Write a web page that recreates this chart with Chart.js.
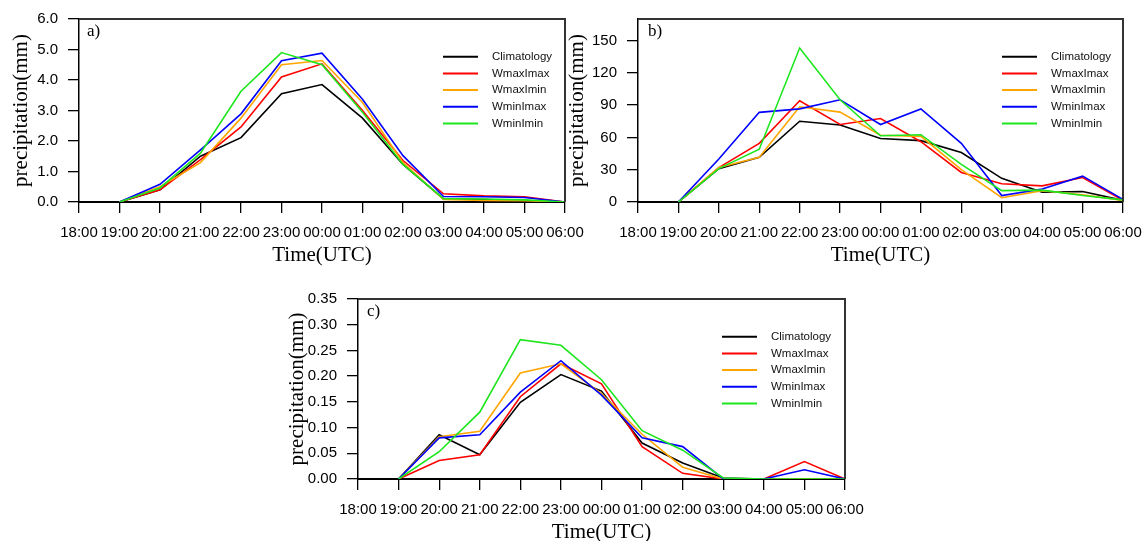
<!DOCTYPE html>
<html>
<head>
<meta charset="utf-8">
<script src="https://cdn.jsdelivr.net/npm/chart.js@4/dist/chart.umd.min.js"></script>
<style>
  html, body { margin: 0; padding: 0; background: #fff; }
  body { width: 1147px; height: 541px; position: relative; overflow: hidden; }
  canvas { position: absolute; }
</style>
</head>
<body>
<canvas id="chart-a" style="left:0px;top:0px" width="600" height="270"></canvas>
<canvas id="chart-b" style="left:560px;top:0px" width="600" height="270"></canvas>
<canvas id="chart-c" style="left:280px;top:280px" width="600" height="261"></canvas>
<script>
// hours on the x axis (no data at 18:00)
const times = ['18:00', '19:00', '20:00', '21:00', '22:00', '23:00', '00:00', '01:00', '02:00', '03:00', '04:00', '05:00', '06:00'];
const seriesNames = ['Climatology', 'WmaxImax', 'WmaxImin', 'WminImax', 'WminImin'];
const seriesColors = ['#000000', '#ff0000', '#ffa500', '#0000ff', '#1ee61e'];

// panel a)
const aClimatology = [null, 0, 0.40, 1.50, 2.11, 3.55, 3.85, 2.75, 1.23, 0.10, 0.08, 0.05, 0];
const aWmaxImax    = [null, 0, 0.40, 1.39, 2.46, 4.10, 4.53, 3.00, 1.36, 0.27, 0.20, 0.17, 0];
const aWmaxImin    = [null, 0, 0.50, 1.29, 2.75, 4.50, 4.64, 3.26, 1.29, 0.08, 0.05, 0.04, 0];
const aWminImax    = [null, 0, 0.58, 1.71, 2.89, 4.63, 4.88, 3.37, 1.52, 0.18, 0.17, 0.15, 0];
const aWminImin    = [null, 0, 0.46, 1.60, 3.63, 4.90, 4.50, 2.94, 1.23, 0.11, 0.10, 0.07, 0];

// panel b)
const bClimatology = [null, 0, 31, 41.5, 75, 71.5, 59, 57, 46, 22, 9, 9.7, 1.5];
const bWmaxImax    = [null, 0, 32, 54.5, 94, 72, 77.5, 56, 27.5, 17, 15, 22.7, 1.5];
const bWmaxImin    = [null, 0, 32, 41.5, 88.5, 83.5, 62, 61, 30, 4, 10.6, 6.7, 1.5];
const bWminImax    = [null, 0, 40, 83.3, 86.5, 95, 72, 86.5, 54.5, 6, 12, 24, 2.4];
const bWminImin    = [null, 0, 31, 49, 143, 95, 61.5, 62.5, 35, 10.6, 11, 6, 2];

// panel c)
const cClimatology = [null, 0, 0.086, 0.047, 0.149, 0.203, 0.171, 0.070, 0.031, 0.002, 0, 0, 0];
const cWmaxImax    = [null, 0, 0.036, 0.047, 0.160, 0.224, 0.185, 0.063, 0.011, 0, 0, 0.034, 0];
const cWmaxImin    = [null, 0, 0.082, 0.093, 0.206, 0.224, 0.166, 0.087, 0.023, 0, 0, 0, 0];
const cWminImax    = [null, 0, 0.080, 0.086, 0.169, 0.230, 0.163, 0.080, 0.063, 0, 0, 0.018, 0];
const cWminImin    = [null, 0, 0.053, 0.130, 0.271, 0.260, 0.193, 0.094, 0.056, 0.002, 0, 0, 0];

const yTicksA = { max: 6, step: 1, decimals: 1 };
const yTicksB = { max: 170, step: 30, decimals: 0 };
const yTicksC = { max: 0.35, step: 0.05, decimals: 2 };

// frame (top/right), panel letter and the inset legend
const panelDecor = {
  id: 'panelDecor',
  afterDraw(chart, args, opts) {
    const {ctx, chartArea: ca} = chart;
    ctx.save();
    ctx.strokeStyle = '#333';
    ctx.lineWidth = 2;
    ctx.beginPath();
    ctx.moveTo(ca.left, ca.top);
    ctx.lineTo(ca.right, ca.top);
    ctx.lineTo(ca.right, ca.bottom);
    ctx.stroke();

    ctx.fillStyle = '#000';
    ctx.font = '17px "Liberation Serif"';
    ctx.textBaseline = 'middle';
    ctx.fillText(opts.letter, ca.left + opts.letterX, ca.top + 12.5);

    ctx.font = '11.5px "Liberation Sans"';
    chart.data.datasets.forEach((ds, i) => {
      const y = ca.top + 37.7 + i * 16.7;
      ctx.strokeStyle = ds.borderColor;
      ctx.lineWidth = 2;
      ctx.beginPath();
      ctx.moveTo(ca.left + 364, y);
      ctx.lineTo(ca.left + 399, y);
      ctx.stroke();
      ctx.fillStyle = '#111';
      ctx.fillText(ds.label, ca.left + 413, y);
    });
    ctx.restore();
  }
};

function makeChart(id, series, yInfo, layout) {
  new Chart(document.getElementById(id).getContext('2d'), {
    type: 'line',
    data: {
      labels: times,
      datasets: series.map((values, i) => ({
        label: seriesNames[i],
        data: values,
        borderColor: seriesColors[i],
        borderWidth: 1.6,
        pointRadius: 0,
        fill: false,
        tension: 0,
        order: 4 - i
      }))
    },
    options: {
      responsive: false,
      animation: false,
      layout: { padding: layout.padding },
      plugins: {
        legend: { display: false },
        tooltip: { enabled: false },
        panelDecor: { letter: layout.letter, letterX: layout.letterX }
      },
      scales: {
        x: {
          type: 'category',
          offset: false,
          grid: { drawOnChartArea: false, drawTicks: true, tickLength: 11, color: '#000', lineWidth: 1.3 },
          border: { color: '#000', width: 2 },
          ticks: { color: '#000', font: { family: 'Liberation Sans', size: 15 }, padding: 11, maxRotation: 0, autoSkip: false },
          title: {
            display: true, text: 'Time(UTC)', color: '#000',
            font: { family: 'Liberation Serif', size: 21, lineHeight: 1 },
            padding: { top: 0, bottom: layout.xTitlePad }
          },
          afterFit: s => { s.height = layout.xHeight; }
        },
        y: {
          min: 0,
          max: yInfo.max,
          grid: { drawOnChartArea: false, drawTicks: true, tickLength: 11, color: '#000', lineWidth: 1.3 },
          border: { color: '#000', width: 1.5 },
          ticks: {
            stepSize: yInfo.step,
            includeBounds: false,
            color: '#000',
            font: { family: 'Liberation Sans', size: 15 },
            padding: 10,
            callback: v => Number(v).toFixed(yInfo.decimals)
          },
          title: {
            display: true, text: 'precipitation(mm)', color: '#000',
            font: { family: 'Liberation Serif', size: 21, lineHeight: 1 },
            padding: { top: layout.yTitlePad, bottom: 0 }
          },
          afterFit: s => { s.width = layout.yWidth; }
        }
      }
    },
    plugins: [panelDecor]
  });
}

makeChart('chart-a', [aClimatology, aWmaxImax, aWmaxImin, aWminImax, aWminImin], yTicksA,
  { padding: { top: 15, right: 35, left: 0, bottom: 0 }, yWidth: 79, xHeight: 68, xTitlePad: 4, yTitlePad: 11, letter: 'a)', letterX: 8 });
makeChart('chart-b', [bClimatology, bWmaxImax, bWmaxImin, bWminImax, bWminImin], yTicksB,
  { padding: { top: 15, right: 37, left: 0, bottom: 0 }, yWidth: 78, xHeight: 68, xTitlePad: 4, yTitlePad: 7, letter: 'b)', letterX: 10 });
makeChart('chart-c', [cClimatology, cWmaxImax, cWmaxImin, cWminImax, cWminImin], yTicksC,
  { padding: { top: 13, right: 35, left: 0, bottom: 0 }, yWidth: 78, xHeight: 62, xTitlePad: -2, yTitlePad: 7, letter: 'c)', letterX: 9 });
</script>
</body>
</html>
